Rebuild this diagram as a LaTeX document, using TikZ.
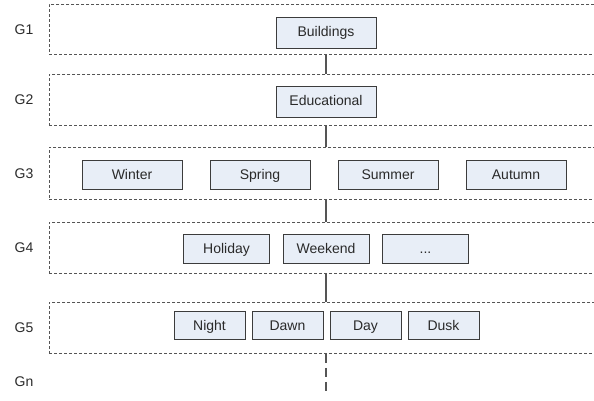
\documentclass[tikz,border=0pt]{standalone}
\usepackage{fontspec}
\setmainfont{Liberation Sans}
\usetikzlibrary{positioning}
\definecolor{boxfill}{HTML}{E8EEF7}
\definecolor{boxline}{HTML}{3C3C3C}
\definecolor{dashline}{HTML}{555555}
\definecolor{txt}{HTML}{2A2A2A}

\begin{document}
\begin{tikzpicture}[x=1pt,y=1pt,on grid,node distance=128pt,
    font=\fontsize{14}{16}\selectfont,text=txt,
    item/.style={draw=boxline,fill=boxfill,line width=0.8pt,inner sep=0pt,
      text height=10pt,text depth=1pt},
    wide/.style={item,minimum width=100pt},
    mid/.style={item,minimum width=86pt,minimum height=29pt},
    small/.style={item,minimum width=71pt,minimum height=28pt},
    group/.style={draw=dashline,dash pattern=on 3pt off 2pt,line width=0.8pt,
      minimum width=560pt,anchor=north west,inner sep=0pt},
    link/.style={draw=dashline,line width=1.4pt}]
   \useasboundingbox (0,0) rectangle (594,-401);
   \clip (0,0) rectangle (594,-401);
   % group frames
   \node [group,minimum height=50pt] (G_1) at (49,-4) {};
   \node [group,minimum height=51pt] (G_2) at (49,-74) {};
   \node [group,minimum height=52pt] (G_3) at (49,-147) {};
   \node [group,minimum height=51pt] (G_4) at (49,-222) {};
   \node [group,minimum height=51pt] (G_5) at (49,-302) {};
   % group labels
   \node (L_1) at ([xshift=-25pt]G_1.west) {G1};
   \node (L_2) at ([xshift=-25pt]G_2.west) {G2};
   \node (L_3) at ([xshift=-25pt]G_3.west) {G3};
   \node (L_4) at ([xshift=-25pt]G_4.west) {G4};
   \node (L_5) at ([xshift=-25pt]G_5.west) {G5};
   \node (L_n) [below=53.5pt of L_5] {Gn};
   % G1, G2
   \node [wide,minimum height=31pt] (Bld) at (326,-32.5) {Buildings};
   \node [wide,minimum height=31pt] (Edu) at (326,-101.5) {Educational};
   % G3
   \node [wide,minimum height=29pt] (Win) at (132,-174.5) {Winter};
   \node [wide,minimum height=29pt] (Spr) [right=of Win] {Spring};
   \node [wide,minimum height=29pt] (Sum) [right=of Spr] {Summer};
   \node [wide,minimum height=29pt] (Aut) [right=of Sum] {Autumn};
   % G4
   \node [mid] (Hol) at (226.5,-248.5) {Holiday};
   \node [mid] (Wkd) [right=99.5pt of Hol] {Weekend};
   \node [mid] (Etc) [right=99.5pt of Wkd] {...};
   % G5
   \node [small] (Ngt) at (209.5,-325.5) {Night};
   \node [small] (Dwn) [right=78pt of Ngt] {Dawn};
   \node [small] (Day) [right=78pt of Dwn] {Day};
   \node [small] (Dsk) [right=78pt of Day] {Dusk};
   % links between the groups
   \coordinate (G_n) at (326,-395);
   \draw [link] (G_1.south -| Bld) -- (G_2.north -| Bld);
   \draw [link] (G_2.south -| Bld) -- (G_3.north -| Bld);
   \draw [link] (G_3.south -| Bld) -- (G_4.north -| Bld);
   \draw [link] (G_4.south -| Bld) -- (G_5.north -| Bld);
   \draw [link,dash pattern=on 9pt off 5pt] (G_5.south -| Bld) -- (G_n);
\end{tikzpicture}
\end{document}
